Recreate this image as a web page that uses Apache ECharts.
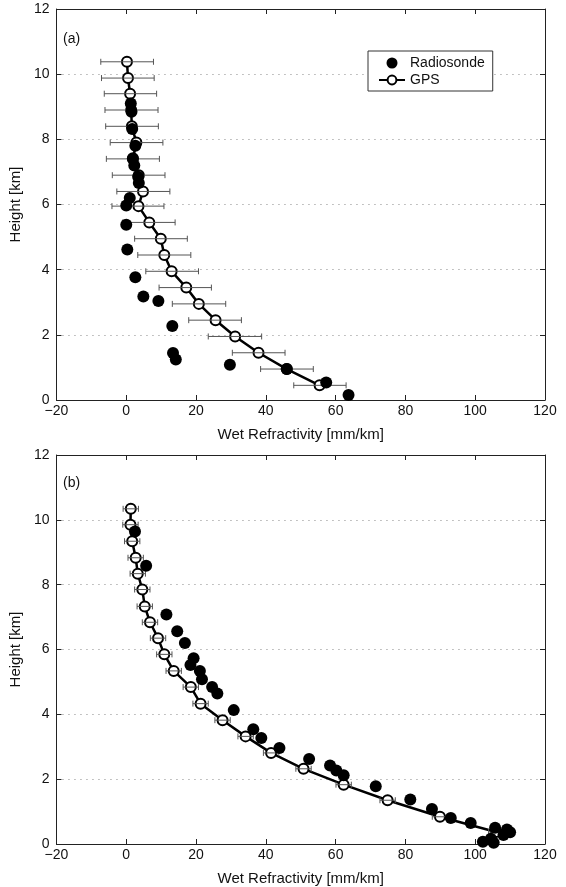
<!DOCTYPE html>
<html>
<head>
<meta charset="utf-8">
<script src="https://cdn.jsdelivr.net/npm/echarts@6/dist/echarts.min.js"></script>
<style>html,body{margin:0;padding:0;background:#fff}#c{width:566px;height:887px}</style>
</head>
<body>
<div id="c"></div>
<script>
// ---------- axis ticks ----------
const xTickValues = [-20, 0, 20, 40, 60, 80, 100, 120];
const yTickValues = [0, 2, 4, 6, 8, 10, 12];

// ---------- panel (a) ----------
const gpsAHeight = [10.38, 9.88, 9.4, 8.9, 8.4, 7.9, 7.4, 6.9, 6.4, 5.95, 5.45, 4.95, 4.45, 3.95, 3.45, 2.95, 2.45, 1.95, 1.45, 0.95, 0.45];
const gpsAValue  = [0.2, 0.5, 1.1, 1.4, 1.6, 2.9, 1.9, 3.6, 4.8, 3.5, 6.6, 9.9, 10.9, 13.0, 17.2, 20.8, 25.6, 31.2, 37.9, 46.0, 55.4];
const gpsALow    = [-7.3, -7.1, -6.3, -6.1, -5.9, -4.6, -5.7, -4.0, -2.7, -4.1, -1.0, 2.4, 3.3, 5.6, 9.4, 13.2, 17.9, 23.5, 30.4, 38.5, 48.0];
const gpsAHigh   = [7.8, 8.0, 8.7, 9.1, 9.2, 10.5, 9.5, 11.1, 12.5, 10.8, 14.0, 17.5, 18.5, 20.7, 24.4, 28.5, 33.0, 38.8, 45.5, 53.6, 63.0];

const sondeAValue  = [1.3, 1.5, 1.7, 2.6, 1.9, 2.3, 3.4, 3.6, 1.0, 0.0, 0.0, 0.3, 2.6, 4.9, 9.2, 13.2, 13.4, 14.2, 29.7, 46.0, 57.3, 63.7];
const sondeAHeight = [9.1, 8.85, 8.32, 7.8, 7.42, 7.2, 6.85, 6.66, 6.2, 5.97, 5.38, 4.62, 3.77, 3.18, 3.04, 2.27, 1.44, 1.24, 1.08, 0.95, 0.54, 0.15];

// ---------- panel (b) ----------
const gpsBHeight = [10.34, 9.85, 9.34, 8.83, 8.34, 7.85, 7.33, 6.84, 6.35, 5.85, 5.34, 4.84, 4.33, 3.82, 3.32, 2.81, 2.32, 1.83, 1.35, 0.84, 0.37];
const gpsBValue  = [1.3, 1.2, 1.7, 2.7, 3.3, 4.6, 5.3, 6.8, 9.1, 10.9, 13.6, 18.5, 21.3, 27.6, 34.2, 41.5, 50.8, 62.3, 74.9, 89.9, 106.0];
const gpsBErr    = [2.2, 2.2, 2.2, 2.2, 2.2, 2.2, 2.2, 2.2, 2.2, 2.2, 2.2, 2.2, 2.2, 2.2, 2.2, 2.2, 2.2, 2.2, 2.2, 2.2, 2.2];

const sondeBValue  = [2.5, 5.7, 11.5, 14.6, 16.8, 19.3, 18.4, 21.1, 21.7, 24.6, 26.1, 30.8, 36.4, 38.7, 43.9, 52.4, 58.4, 60.2, 62.3, 71.5, 81.4, 87.6, 93.0, 98.7, 105.7, 109.1, 110.0, 108.1, 102.2, 104.5, 105.3];
const sondeBHeight = [9.64, 8.58, 7.08, 6.56, 6.2, 5.73, 5.52, 5.34, 5.08, 4.84, 4.64, 4.13, 3.54, 3.27, 2.96, 2.62, 2.42, 2.27, 2.12, 1.78, 1.37, 1.08, 0.8, 0.65, 0.5, 0.45, 0.36, 0.28, 0.07, 0.16, 0.04];

// ---------- build ----------
const zip = (a, b) => a.map((v, i) => [v, b[i]]);
const errA = gpsAValue.map((v, i) => [gpsALow[i], gpsAHigh[i], gpsAHeight[i]]);
const errB = gpsBValue.map((v, i) => [v - gpsBErr[i], v + gpsBErr[i], gpsBHeight[i]]);

const FONT = 'Liberation Sans, Arial, Helvetica, sans-serif';
const AX = '#222';
const fmtMinus = v => String(v).replace('-', '\u2212');

function errRender(cap) {
  return function (params, api) {
    const lo = api.coord([api.value(0), api.value(2)]);
    const hi = api.coord([api.value(1), api.value(2)]);
    const st = { stroke: '#555', lineWidth: 1 };
    return {
      type: 'group',
      children: [
        { type: 'line', shape: { x1: lo[0], y1: lo[1], x2: hi[0], y2: hi[1] }, style: st },
        { type: 'line', shape: { x1: lo[0], y1: lo[1] - cap, x2: lo[0], y2: lo[1] + cap }, style: st },
        { type: 'line', shape: { x1: hi[0], y1: hi[1] - cap, x2: hi[0], y2: hi[1] + cap }, style: st }
      ]
    };
  };
}

const xMin = xTickValues[0], xMax = xTickValues[xTickValues.length - 1];
const yMin = yTickValues[0], yMax = yTickValues[yTickValues.length - 1];

function xAxes(gi) {
  return [{
    type: 'value', gridIndex: gi, min: xMin, max: xMax, interval: 20,
    name: 'Wet Refractivity [mm/km]', nameLocation: 'middle', nameGap: 27,
    nameTextStyle: { fontFamily: FONT, fontSize: 15, color: '#111' },
    axisLine: { onZero: false, lineStyle: { color: AX, width: 1 } },
    axisTick: { inside: true, length: 5, lineStyle: { color: AX } },
    axisLabel: { fontFamily: FONT, fontSize: 14, color: '#111', margin: 4, formatter: fmtMinus },
    splitLine: { show: false }
  }, {
    type: 'value', gridIndex: gi, position: 'top', min: xMin, max: xMax, interval: 20,
    axisLine: { show: true, onZero: false, lineStyle: { color: AX, width: 1 } },
    axisTick: { inside: true, length: 5, lineStyle: { color: AX } },
    axisLabel: { show: false }, splitLine: { show: false }
  }];
}
function yAxes(gi) {
  return [{
    type: 'value', gridIndex: gi, min: yMin, max: yMax, interval: 2,
    name: 'Height [km]', nameLocation: 'middle', nameGap: 25,
    nameTextStyle: { fontFamily: FONT, fontSize: 15, color: '#111' },
    axisLine: { show: true, onZero: false, lineStyle: { color: AX, width: 1 } },
    axisTick: { show: true, inside: true, length: 5, lineStyle: { color: AX } },
    axisLabel: { fontFamily: FONT, fontSize: 14, color: '#111', margin: 7 },
    splitLine: { show: true, lineStyle: { color: '#888', type: [1, 5], width: 1 } }
  }, {
    type: 'value', gridIndex: gi, position: 'right', min: yMin, max: yMax, interval: 2,
    axisLine: { show: true, onZero: false, lineStyle: { color: AX, width: 1 } },
    axisTick: { show: true, inside: true, length: 5, lineStyle: { color: AX } },
    axisLabel: { show: false }, splitLine: { show: false }
  }];
}

function panelSeries(gi, gps, err, sonde, cap) {
  return [
    {
      name: 'GPS', type: 'line', xAxisIndex: gi * 2, yAxisIndex: gi * 2, data: gps,
      symbol: 'emptyCircle', symbolSize: 10, showSymbol: true,
      lineStyle: { color: '#000', width: 2.5 },
      itemStyle: { color: '#000', borderColor: '#000', borderWidth: 2.5, opacity: 1 },
      z: 3, animation: false
    },
    {
      name: 'err' + gi, type: 'custom', xAxisIndex: gi * 2, yAxisIndex: gi * 2, data: err,
      renderItem: errRender(cap), encode: { x: [0, 1], y: 2 }, z: 4, animation: false, silent: true
    },
    {
      name: 'Radiosonde', type: 'scatter', xAxisIndex: gi * 2, yAxisIndex: gi * 2, data: sonde,
      symbol: 'circle', symbolSize: 12, itemStyle: { color: '#000', opacity: 1 }, z: 5, animation: false
    }
  ];
}

const chart = echarts.init(document.getElementById('c'), null, { renderer: 'canvas' });
chart.setOption({
  animation: false,
  backgroundColor: '#fff',
  grid: [
    { left: 51, top: 9, width: 494, height: 391 },
    { left: 51, top: 455, width: 494, height: 389 }
  ],
  xAxis: [...xAxes(0), ...xAxes(1)],
  yAxis: [...yAxes(0), ...yAxes(1)],
  legend: {
    data: ['Radiosonde', 'GPS'], orient: 'vertical', left: 368, top: 51,
    backgroundColor: '#fff', borderColor: '#333', borderWidth: 1, borderRadius: 0,
    padding: [5, 8, 4, 10], itemGap: 3, itemWidth: 26, itemHeight: 11,
    textStyle: { fontFamily: FONT, fontSize: 14, color: '#111' },
    selectedMode: false
  },
  graphic: [
    { type: 'text', left: 63, top: 32, style: { text: '(a)', font: '14px ' + FONT, fill: '#111' } },
    { type: 'text', left: 63, top: 476, style: { text: '(b)', font: '14px ' + FONT, fill: '#111' } }
  ],
  series: [
    ...panelSeries(0, zip(gpsAValue, gpsAHeight), errA, zip(sondeAValue, sondeAHeight), 3),
    ...panelSeries(1, zip(gpsBValue, gpsBHeight), errB, zip(sondeBValue, sondeBHeight), 3)
  ]
});
</script>
</body>
</html>
